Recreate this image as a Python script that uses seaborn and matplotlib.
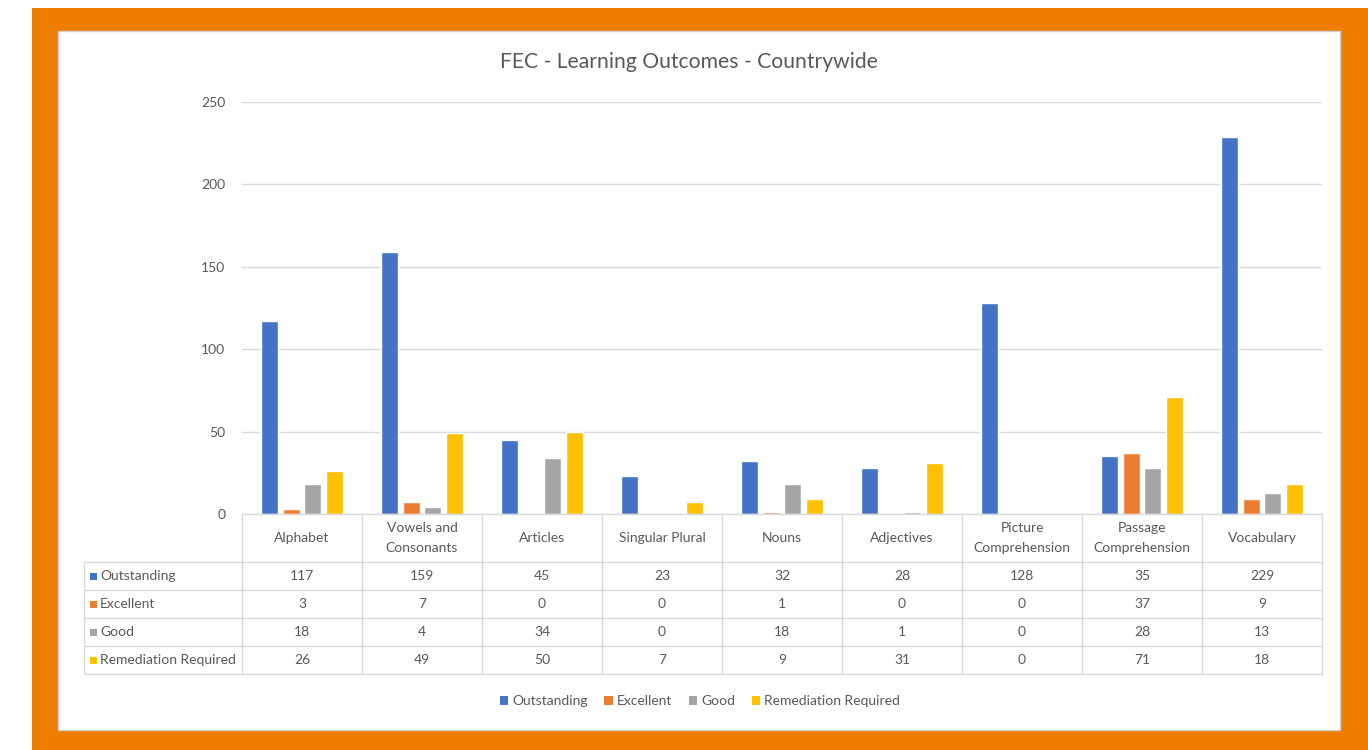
import matplotlib
matplotlib.use("Agg")
import matplotlib.pyplot as plt
import seaborn as sns
import pandas as pd
from matplotlib.patches import Rectangle
from matplotlib.lines import Line2D
from matplotlib.transforms import blended_transform_factory

categories = ["Alphabet", "Vowels and\nConsonants", "Articles", "Singular Plural", "Nouns",
              "Adjectives", "Picture\nComprehension", "Passage\nComprehension", "Vocabulary"]
series = ["Outstanding", "Excellent", "Good", "Remediation Required"]
outstanding = [117, 159, 45, 23, 32, 28, 128, 35, 229]
excellent = [3, 7, 0, 0, 1, 0, 0, 37, 9]
good = [18, 4, 34, 0, 18, 1, 0, 28, 13]
remediation = [26, 49, 50, 7, 9, 31, 0, 71, 18]
colors = ["#4472C4", "#ED7D31", "#A5A5A5", "#FFC000"]
yticks = [0, 50, 100, 150, 200, 250]
title = "FEC - Learning Outcomes - Countrywide"

values = [outstanding, excellent, good, remediation]
df = pd.DataFrame({
    "category": [c for _ in series for c in categories],
    "series": [s for s in series for _ in categories],
    "value": [v for vals in values for v in vals],
})

W, H = 1368, 750
sns.set_theme(style="white")
plt.rcParams['font.family'] = ['Lato', 'DejaVu Sans']
TXT = '#595959'
GRID = '#D9D9D9'

fig = plt.figure(figsize=(W / 100, H / 100), dpi=100)
fig.patch.set_facecolor('white')

def fx(px):
    return px / W

def fy(py):
    return 1 - py / H

fig.add_artist(Rectangle((fx(32), 0), 1 - fx(32), fy(8), transform=fig.transFigure,
                         facecolor='#EE7D00', edgecolor='none', zorder=-2))
fig.add_artist(Rectangle((fx(58), fy(730)), fx(1340 - 58), (730 - 31) / H, transform=fig.transFigure,
                         facecolor='white', edgecolor='#D0D0D0', lw=1, zorder=-1))

ax = fig.add_axes([fx(242), fy(514), fx(1322 - 242), (514 - 102) / H])
ax.set_facecolor('none')
sns.barplot(data=df, x="category", y="value", hue="series", hue_order=series, order=categories,
            palette=colors, width=0.73, gap=0.22, saturation=1, ax=ax, legend=False)
ax.set_ylim(0, 250)
ax.set_xlim(-0.5, len(categories) - 0.5)
ax.set_yticks(yticks)
ax.yaxis.grid(True, color=GRID, lw=1)
ax.set_axisbelow(True)
for s in ax.spines.values():
    s.set_visible(False)
ax.set_xticks([])
ax.set_xlabel('')
ax.set_ylabel('')
ax.tick_params(axis='y', length=0, pad=12, labelcolor=TXT, labelsize=10)

fig.text(fx(689), fy(62), title, ha='center', va='center', fontsize=15.2, color=TXT)

# data table
tr = blended_transform_factory(ax.transData, fig.transFigure)
n = len(categories)
x_lo, x_hi = -0.5, n - 0.5
header_top, header_bot = 514, 562
row_h = 28
row_y = [header_bot + i * row_h for i in range(len(series) + 1)]
label_left = 84

def hline(x0, x1, py, transform):
    fig.add_artist(Line2D([x0, x1], [fy(py), fy(py)], transform=transform, color=GRID, lw=1, zorder=3))

hline(x_lo, x_hi, header_top, tr)
for py in row_y:
    hline(fx(label_left), fx(242), py, fig.transFigure)
    hline(x_lo, x_hi, py, tr)
for i in range(n + 1):
    xv = x_lo + i
    fig.add_artist(Line2D([xv, xv], [fy(header_top), fy(row_y[-1])], transform=tr, color=GRID, lw=1, zorder=3))
fig.add_artist(Line2D([fx(label_left)] * 2, [fy(row_y[0]), fy(row_y[-1])], transform=fig.transFigure,
                      color=GRID, lw=1, zorder=3))

for i, c in enumerate(categories):
    fig.text(i, fy((header_top + header_bot) / 2), c, transform=tr, ha='center', va='center',
             fontsize=10, color=TXT, linespacing=1.75)
for r, (s, vals, col) in enumerate(zip(series, values, colors)):
    cy = (row_y[r] + row_y[r + 1]) / 2
    fig.add_artist(Rectangle((fx(90), fy(cy + 3.5)), fx(7), 7 / H, transform=fig.transFigure,
                             facecolor=col, edgecolor='none', zorder=3))
    fig.text(fx(100), fy(cy), s, ha='left', va='center', fontsize=10, color=TXT)
    for i, v in enumerate(vals):
        fig.text(i, fy(cy), str(v), transform=tr, ha='center', va='center', fontsize=10, color=TXT)

handles = [Rectangle((0, 0), 1, 1, facecolor=c, edgecolor='none') for c in colors]
fig.legend(handles, series, loc='center', bbox_to_anchor=(fx(700), fy(701)), ncol=4, frameon=False,
           handlelength=0.6, handleheight=0.6, handletextpad=0.3, columnspacing=1.2,
           fontsize=10, labelcolor=TXT)

fig.savefig('out.png', dpi=100)
